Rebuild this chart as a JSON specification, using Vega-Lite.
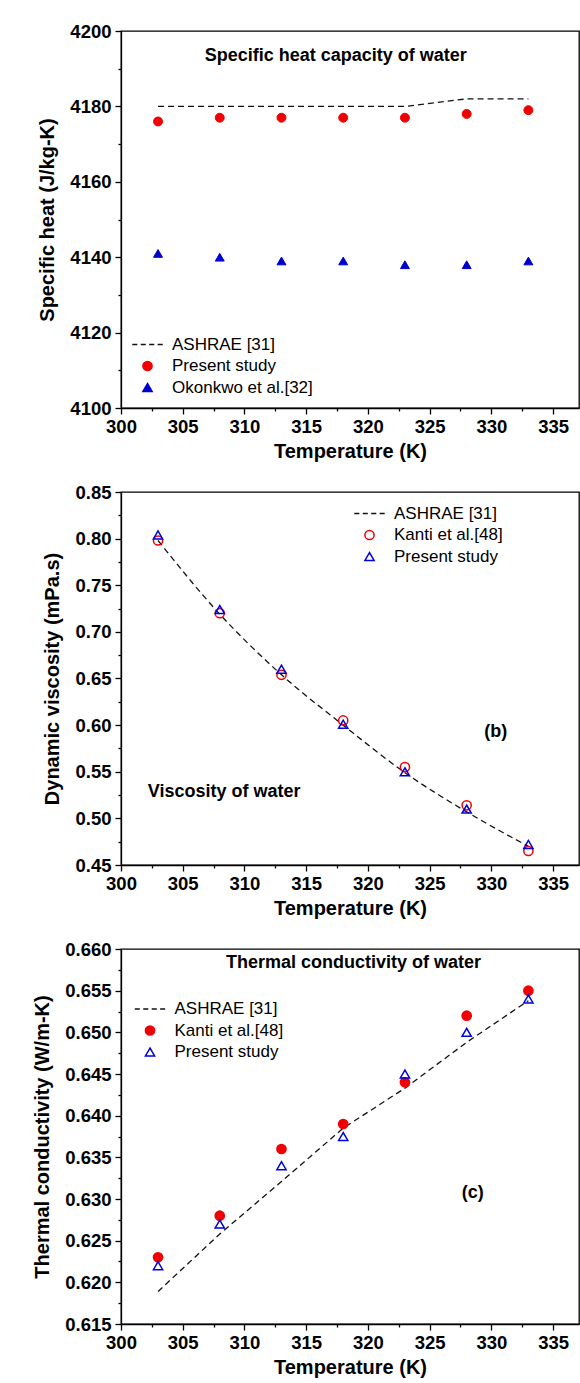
{
  "$schema": "https://vega.github.io/schema/vega-lite/v6.json",
  "background": "white",
  "padding": {"left": 32, "top": 21, "right": 0, "bottom": 0},
  "autosize": {"type": "pad"},
  "bounds": "flush",
  "spacing": 84,
  "resolve": {
    "scale": {"shape": "independent", "fill": "independent", "stroke": "independent"},
    "legend": {"shape": "independent", "fill": "independent", "stroke": "independent"}
  },
  "config": {
    "view": {"stroke": "black", "strokeWidth": 1.3},
    "axis": {
      "grid": false,
      "domainColor": "black",
      "domainWidth": 1.3,
      "tickColor": "black",
      "tickWidth": 1.3,
      "labelColor": "black",
      "labelFont": "Liberation Sans",
      "labelFontWeight": "bold",
      "labelFontSize": 18.5,
      "labelOverlap": false,
      "labelFlush": false,
      "titleColor": "black",
      "titleFont": "Liberation Sans",
      "titleFontWeight": "bold",
      "titleFontSize": 20
    },
    "axisX": {"labelPadding": 3, "titlePadding": 6},
    "axisY": {"labelPadding": 4, "titlePadding": 12},
    "legend": {
      "title": null,
      "orient": "none",
      "padding": 0,
      "labelFont": "Liberation Sans",
      "labelFontSize": 17,
      "labelColor": "black",
      "labelOffset": 16,
      "rowPadding": 3.5,
      "symbolSize": 85,
      "symbolStrokeWidth": 1.5
    }
  },
  "vconcat": [
    {
      "width": 458,
      "height": 377,
      "data": {"values": [
        {"T": 303, "v": 4180, "series": "ASHRAE [31]"},
        {"T": 308, "v": 4180, "series": "ASHRAE [31]"},
        {"T": 313, "v": 4180, "series": "ASHRAE [31]"},
        {"T": 318, "v": 4180, "series": "ASHRAE [31]"},
        {"T": 323, "v": 4180, "series": "ASHRAE [31]"},
        {"T": 328, "v": 4182, "series": "ASHRAE [31]"},
        {"T": 333, "v": 4182, "series": "ASHRAE [31]"},
        {"T": 303, "v": 4176, "series": "Present study"},
        {"T": 308, "v": 4177, "series": "Present study"},
        {"T": 313, "v": 4177, "series": "Present study"},
        {"T": 318, "v": 4177, "series": "Present study"},
        {"T": 323, "v": 4177, "series": "Present study"},
        {"T": 328, "v": 4178, "series": "Present study"},
        {"T": 333, "v": 4179, "series": "Present study"},
        {"T": 303, "v": 4141, "series": "Okonkwo et al.[32]"},
        {"T": 308, "v": 4140, "series": "Okonkwo et al.[32]"},
        {"T": 313, "v": 4139, "series": "Okonkwo et al.[32]"},
        {"T": 318, "v": 4139, "series": "Okonkwo et al.[32]"},
        {"T": 323, "v": 4138, "series": "Okonkwo et al.[32]"},
        {"T": 328, "v": 4138, "series": "Okonkwo et al.[32]"},
        {"T": 333, "v": 4139, "series": "Okonkwo et al.[32]"}
      ]},
      "encoding": {
        "x": {"field": "T", "type": "quantitative",
          "scale": {"domain": [300, 337.1], "nice": false, "zero": false},
          "axis": {"title": "Temperature (K)", "format": "d",
            "values": [300, 302.5, 305, 307.5, 310, 312.5, 315, 317.5, 320, 322.5, 325, 327.5, 330, 332.5, 335],
            "labelExpr": "datum.value % 5 === 0 ? datum.label : ''",
            "tickSize": {"condition": {"test": "datum.value % 5 !== 0", "value": 3}, "value": 6}}},
        "y": {"field": "v", "type": "quantitative",
          "scale": {"domain": [4100, 4200], "nice": false, "zero": false},
          "axis": {"title": "Specific heat (J/kg-K)", "format": "d",
            "values": [4100, 4110, 4120, 4130, 4140, 4150, 4160, 4170, 4180, 4190, 4200],
            "labelExpr": "datum.value % 20 === 0 ? datum.label : ''",
            "tickSize": {"condition": {"test": "datum.value % 20 !== 0", "value": 3}, "value": 6}}}
      },
      "layer": [
        {
          "transform": [{"filter": "datum.series === 'ASHRAE [31]'"}],
          "mark": {"type": "line", "color": "#111111", "strokeWidth": 1.3, "strokeDash": [6, 4]}
        },
        {
          "transform": [{"filter": "datum.series !== 'ASHRAE [31]'"}],
          "mark": {"type": "point", "opacity": 1, "strokeWidth": 1, "size": 80},
          "encoding": {
            "shape": {"field": "series", "type": "nominal",
              "scale": {"domain": ["ASHRAE [31]", "Present study", "Okonkwo et al.[32]"], "range": ["M-3.3,0H-2.2M-1.47,0H-0.37M0.37,0H1.47M2.2,0H3.3", "circle", "triangle-up"]},
              "legend": {"legendX": 18, "legendY": 305}},
            "fill": {"field": "series", "type": "nominal",
              "scale": {"domain": ["ASHRAE [31]", "Present study", "Okonkwo et al.[32]"], "range": ["transparent", "#f00000", "#0000cc"]},
              "legend": {"legendX": 18, "legendY": 305}},
            "stroke": {"field": "series", "type": "nominal",
              "scale": {"domain": ["ASHRAE [31]", "Present study", "Okonkwo et al.[32]"], "range": ["#111111", "#f00000", "#0000cc"]},
              "legend": {"legendX": 18, "legendY": 305}}
          }
        },
        {
          "data": {"values": [{"T": 317.4, "v": 4193.4, "label": "Specific heat capacity of water"}]},
          "mark": {"type": "text", "font": "Liberation Sans", "fontWeight": "bold", "fontSize": 18, "align": "center", "baseline": "middle", "color": "black"},
          "encoding": {"text": {"field": "label"}}
        }
      ]
    },
    {
      "width": 458,
      "height": 373,
      "data": {"values": [
        {"T": 303, "v": 0.798, "series": "ASHRAE [31]"},
        {"T": 308, "v": 0.719, "series": "ASHRAE [31]"},
        {"T": 313, "v": 0.654, "series": "ASHRAE [31]"},
        {"T": 318, "v": 0.600, "series": "ASHRAE [31]"},
        {"T": 323, "v": 0.549, "series": "ASHRAE [31]"},
        {"T": 328, "v": 0.507, "series": "ASHRAE [31]"},
        {"T": 333, "v": 0.470, "series": "ASHRAE [31]"},
        {"T": 303, "v": 0.798, "series": "Kanti et al.[48]"},
        {"T": 308, "v": 0.720, "series": "Kanti et al.[48]"},
        {"T": 313, "v": 0.654, "series": "Kanti et al.[48]"},
        {"T": 318, "v": 0.605, "series": "Kanti et al.[48]"},
        {"T": 323, "v": 0.555, "series": "Kanti et al.[48]"},
        {"T": 328, "v": 0.514, "series": "Kanti et al.[48]"},
        {"T": 333, "v": 0.465, "series": "Kanti et al.[48]"},
        {"T": 303, "v": 0.804, "series": "Present study"},
        {"T": 308, "v": 0.724, "series": "Present study"},
        {"T": 313, "v": 0.660, "series": "Present study"},
        {"T": 318, "v": 0.601, "series": "Present study"},
        {"T": 323, "v": 0.550, "series": "Present study"},
        {"T": 328, "v": 0.510, "series": "Present study"},
        {"T": 333, "v": 0.472, "series": "Present study"}
      ]},
      "encoding": {
        "x": {"field": "T", "type": "quantitative",
          "scale": {"domain": [300, 337.1], "nice": false, "zero": false},
          "axis": {"title": "Temperature (K)", "format": "d",
            "values": [300, 302.5, 305, 307.5, 310, 312.5, 315, 317.5, 320, 322.5, 325, 327.5, 330, 332.5, 335],
            "labelExpr": "datum.value % 5 === 0 ? datum.label : ''",
            "tickSize": {"condition": {"test": "datum.value % 5 !== 0", "value": 3}, "value": 6}}},
        "y": {"field": "v", "type": "quantitative",
          "scale": {"domain": [0.45, 0.85], "nice": false, "zero": false},
          "axis": {"title": "Dynamic viscosity (mPa.s)", "format": ".2f",
            "values": [0.45, 0.475, 0.5, 0.525, 0.55, 0.575, 0.6, 0.625, 0.65, 0.675, 0.7, 0.725, 0.75, 0.775, 0.8, 0.825, 0.85],
            "labelExpr": "round(datum.value * 1000) % 50 === 0 ? datum.label : ''",
            "tickSize": {"condition": {"test": "round(datum.value * 1000) % 50 !== 0", "value": 3}, "value": 6}}}
      },
      "layer": [
        {
          "transform": [{"filter": "datum.series === 'ASHRAE [31]'"}],
          "mark": {"type": "line", "color": "#111111", "strokeWidth": 1.3, "strokeDash": [6, 4], "interpolate": "monotone"}
        },
        {
          "transform": [{"filter": "datum.series !== 'ASHRAE [31]'"}],
          "mark": {"type": "point", "opacity": 1, "strokeWidth": 1.5, "size": 85},
          "encoding": {
            "shape": {"field": "series", "type": "nominal",
              "scale": {"domain": ["ASHRAE [31]", "Kanti et al.[48]", "Present study"], "range": ["M-3.3,0H-2.2M-1.47,0H-0.37M0.37,0H1.47M2.2,0H3.3", "circle", "triangle-up"]},
              "legend": {"legendX": 240, "legendY": 13}},
            "fill": {"field": "series", "type": "nominal",
              "scale": {"domain": ["ASHRAE [31]", "Kanti et al.[48]", "Present study"], "range": ["transparent", "transparent", "transparent"]},
              "legend": {"legendX": 240, "legendY": 13}},
            "stroke": {"field": "series", "type": "nominal",
              "scale": {"domain": ["ASHRAE [31]", "Kanti et al.[48]", "Present study"], "range": ["#111111", "#f00000", "#0000dd"]},
              "legend": {"legendX": 240, "legendY": 13}}
          }
        },
        {
          "data": {"values": [
            {"T": 330.35, "v": 0.593, "label": "(b)"},
            {"T": 308.35, "v": 0.528, "label": "Viscosity of water"}
          ]},
          "mark": {"type": "text", "font": "Liberation Sans", "fontWeight": "bold", "fontSize": 18, "align": "center", "baseline": "middle", "color": "black"},
          "encoding": {"text": {"field": "label"}}
        }
      ]
    },
    {
      "width": 458,
      "height": 375,
      "data": {"values": [
        {"T": 303, "v": 0.6189, "series": "ASHRAE [31]"},
        {"T": 308, "v": 0.6258, "series": "ASHRAE [31]"},
        {"T": 313, "v": 0.6321, "series": "ASHRAE [31]"},
        {"T": 318, "v": 0.6385, "series": "ASHRAE [31]"},
        {"T": 323, "v": 0.6433, "series": "ASHRAE [31]"},
        {"T": 328, "v": 0.6488, "series": "ASHRAE [31]"},
        {"T": 333, "v": 0.6538, "series": "ASHRAE [31]"},
        {"T": 303, "v": 0.623, "series": "Kanti et al.[48]"},
        {"T": 308, "v": 0.628, "series": "Kanti et al.[48]"},
        {"T": 313, "v": 0.636, "series": "Kanti et al.[48]"},
        {"T": 318, "v": 0.639, "series": "Kanti et al.[48]"},
        {"T": 323, "v": 0.644, "series": "Kanti et al.[48]"},
        {"T": 328, "v": 0.652, "series": "Kanti et al.[48]"},
        {"T": 333, "v": 0.655, "series": "Kanti et al.[48]"},
        {"T": 303, "v": 0.622, "series": "Present study"},
        {"T": 308, "v": 0.627, "series": "Present study"},
        {"T": 313, "v": 0.634, "series": "Present study"},
        {"T": 318, "v": 0.6375, "series": "Present study"},
        {"T": 323, "v": 0.645, "series": "Present study"},
        {"T": 328, "v": 0.650, "series": "Present study"},
        {"T": 333, "v": 0.654, "series": "Present study"}
      ]},
      "encoding": {
        "x": {"field": "T", "type": "quantitative",
          "scale": {"domain": [300, 337.1], "nice": false, "zero": false},
          "axis": {"title": "Temperature (K)", "format": "d",
            "values": [300, 302.5, 305, 307.5, 310, 312.5, 315, 317.5, 320, 322.5, 325, 327.5, 330, 332.5, 335],
            "labelExpr": "datum.value % 5 === 0 ? datum.label : ''",
            "tickSize": {"condition": {"test": "datum.value % 5 !== 0", "value": 3}, "value": 6}}},
        "y": {"field": "v", "type": "quantitative",
          "scale": {"domain": [0.615, 0.66], "nice": false, "zero": false},
          "axis": {"title": "Thermal conductivity (W/m-K)", "format": ".3f",
            "values": [0.615, 0.6175, 0.62, 0.6225, 0.625, 0.6275, 0.63, 0.6325, 0.635, 0.6375, 0.64, 0.6425, 0.645, 0.6475, 0.65, 0.6525, 0.655, 0.6575, 0.66],
            "labelExpr": "round(datum.value * 10000) % 50 === 0 ? datum.label : ''",
            "tickSize": {"condition": {"test": "round(datum.value * 10000) % 50 !== 0", "value": 3}, "value": 6}}}
      },
      "layer": [
        {
          "transform": [{"filter": "datum.series === 'ASHRAE [31]'"}],
          "mark": {"type": "line", "color": "#111111", "strokeWidth": 1.3, "strokeDash": [6, 4]}
        },
        {
          "transform": [{"filter": "datum.series !== 'ASHRAE [31]'"}],
          "mark": {"type": "point", "opacity": 1, "strokeWidth": 1.5, "size": 85},
          "encoding": {
            "shape": {"field": "series", "type": "nominal",
              "scale": {"domain": ["ASHRAE [31]", "Kanti et al.[48]", "Present study"], "range": ["M-3.3,0H-2.2M-1.47,0H-0.37M0.37,0H1.47M2.2,0H3.3", "circle", "triangle-up"]},
              "legend": {"legendX": 20.5, "legendY": 51.5}},
            "fill": {"field": "series", "type": "nominal",
              "scale": {"domain": ["ASHRAE [31]", "Kanti et al.[48]", "Present study"], "range": ["transparent", "#f00000", "transparent"]},
              "legend": {"legendX": 20.5, "legendY": 51.5}},
            "stroke": {"field": "series", "type": "nominal",
              "scale": {"domain": ["ASHRAE [31]", "Kanti et al.[48]", "Present study"], "range": ["#111111", "#f00000", "#0000dd"]},
              "legend": {"legendX": 20.5, "legendY": 51.5}}
          }
        },
        {
          "data": {"values": [
            {"T": 318.84, "v": 0.6583, "label": "Thermal conductivity of water"},
            {"T": 328.5, "v": 0.6307, "label": "(c)"}
          ]},
          "mark": {"type": "text", "font": "Liberation Sans", "fontWeight": "bold", "fontSize": 18, "align": "center", "baseline": "middle", "color": "black"},
          "encoding": {"text": {"field": "label"}}
        }
      ]
    }
  ]
}
